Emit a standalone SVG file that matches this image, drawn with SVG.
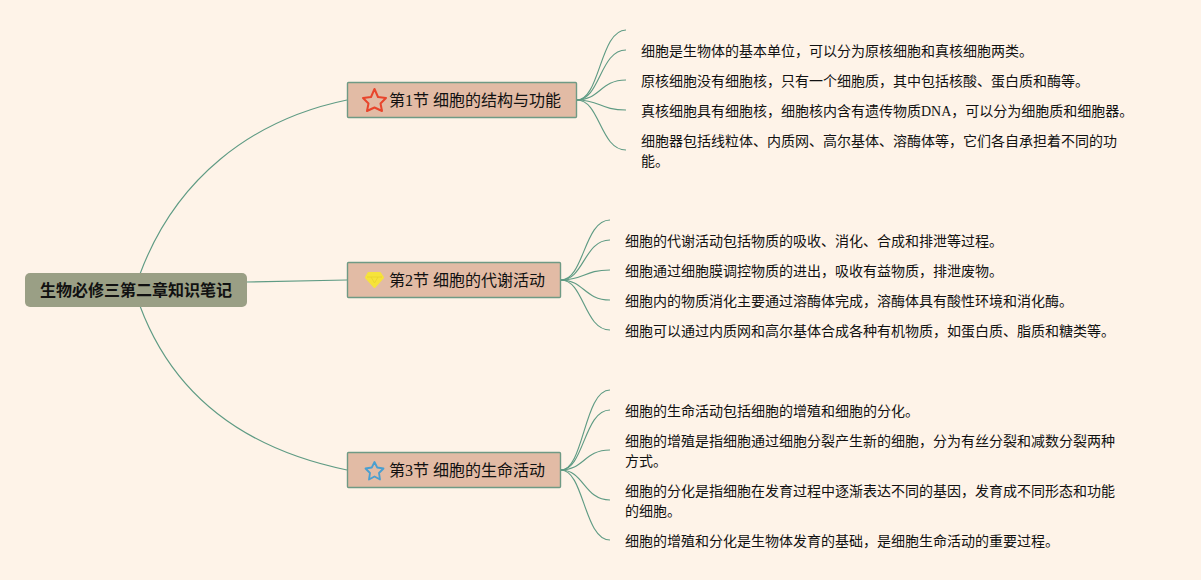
<svg xmlns="http://www.w3.org/2000/svg" width="1201" height="580" viewBox="0 0 1201 580">
<style>
text{font-family:"Liberation Serif","Noto Sans CJK SC",serif;fill:#111}
.leaf{font-size:14px}
.sec{font-size:16px}
.root{font-size:16px;font-weight:700}
.box{fill:#e2bba5;stroke:#6f9a85;stroke-width:1.400}
.link{fill:none;stroke:#5f9b84;stroke-width:1.150}
</style>
<rect width="1201" height="580" fill="#fef3e8"/>
<g id="connectors">
<path class="link" d="M246 282 L347 280"/>
<path class="link" d="M140 274 C175 180 250 120 347 100"/>
<path class="link" d="M140 306 C175 400 250 450 347 470"/>
<path class="link" d="M577 100 C600 100 600 30 626 30"/>
<path class="link" d="M577 100 C600 100 600 50 626 50"/>
<path class="link" d="M577 100 C600 100 600 80 626 80"/>
<path class="link" d="M577 100 C600 100 600 110 626 110"/>
<path class="link" d="M577 100 C600 100 600 150 626 150"/>
<path class="link" d="M561 280 C584 280 584 220 610 220"/>
<path class="link" d="M561 280 C584 280 584 240 610 240"/>
<path class="link" d="M561 280 C584 280 584 270 610 270"/>
<path class="link" d="M561 280 C584 280 584 300 610 300"/>
<path class="link" d="M561 280 C584 280 584 330 610 330"/>
<path class="link" d="M561 470 C584 470 584 390 610 390"/>
<path class="link" d="M561 470 C584 470 584 410 610 410"/>
<path class="link" d="M561 470 C584 470 584 450 610 450"/>
<path class="link" d="M561 470 C584 470 584 500 610 500"/>
<path class="link" d="M561 470 C584 470 584 540 610 540"/>
</g>
<g id="root">
<rect x="25" y="273" width="222" height="34" rx="5" fill="#9a9f85"/>
<text class="root" x="40" y="296">生物必修三第二章知识笔记</text>
</g>
<g id="sec1">
<rect class="box" x="347.500" y="82.500" width="229" height="35" rx="1"/>
<path d="M374.500 89 L378 97 L386 98 L380.500 103.500 L382 111 L374.500 107.500 L367 111 L368.500 103.500 L363 98 L371 97 Z" fill="none" stroke="#e8452c" stroke-width="2" stroke-linejoin="round"/>
<text class="sec" x="389" y="106">第1节 细胞的结构与功能</text>
</g>
<g id="sec2">
<rect class="box" x="347.500" y="262.500" width="213" height="35" rx="1"/>
<path d="M368.500 273 H380 L383 277.500 L374.500 287 L366 277.500 Z" fill="#f6e33a" stroke="#f6e33a" stroke-width="2" stroke-linejoin="round"/>
<path d="M371 277 L374.500 283 L378 277 M367 277 H382" fill="none" stroke="#e9d22e" stroke-width="0.800"/>
<text class="sec" x="389" y="286">第2节 细胞的代谢活动</text>
</g>
<g id="sec3">
<rect class="box" x="347.500" y="452.500" width="213" height="35" rx="1"/>
<path d="M374.500 462 L377.200 467.500 L383.500 468.500 L379 473 L380 479.500 L374.500 476.500 L369 479.500 L370 473 L365.500 468.500 L371.800 467.500 Z" fill="none" stroke="#4a9fd0" stroke-width="1.800" stroke-linejoin="round"/>
<text class="sec" x="389" y="476">第3节 细胞的生命活动</text>
</g>
<g id="leaf1-1"><text class="leaf" x="641" y="56">细胞是生物体的基本单位，可以分为原核细胞和真核细胞两类。</text></g>
<g id="leaf1-2"><text class="leaf" x="641" y="86">原核细胞没有细胞核，只有一个细胞质，其中包括核酸、蛋白质和酶等。</text></g>
<g id="leaf1-3"><text class="leaf" x="641" y="116">真核细胞具有细胞核，细胞核内含有遗传物质DNA，可以分为细胞质和细胞器。</text></g>
<g id="leaf1-4"><text class="leaf" x="641" y="146">细胞器包括线粒体、内质网、高尔基体、溶酶体等，它们各自承担着不同的功</text><text class="leaf" x="641" y="166">能。</text></g>
<g id="leaf2-1"><text class="leaf" x="625" y="246">细胞的代谢活动包括物质的吸收、消化、合成和排泄等过程。</text></g>
<g id="leaf2-2"><text class="leaf" x="625" y="276">细胞通过细胞膜调控物质的进出，吸收有益物质，排泄废物。</text></g>
<g id="leaf2-3"><text class="leaf" x="625" y="306">细胞内的物质消化主要通过溶酶体完成，溶酶体具有酸性环境和消化酶。</text></g>
<g id="leaf2-4"><text class="leaf" x="625" y="336">细胞可以通过内质网和高尔基体合成各种有机物质，如蛋白质、脂质和糖类等。</text></g>
<g id="leaf3-1"><text class="leaf" x="625" y="416">细胞的生命活动包括细胞的增殖和细胞的分化。</text></g>
<g id="leaf3-2"><text class="leaf" x="625" y="446">细胞的增殖是指细胞通过细胞分裂产生新的细胞，分为有丝分裂和减数分裂两种</text><text class="leaf" x="625" y="466">方式。</text></g>
<g id="leaf3-3"><text class="leaf" x="625" y="496">细胞的分化是指细胞在发育过程中逐渐表达不同的基因，发育成不同形态和功能</text><text class="leaf" x="625" y="516">的细胞。</text></g>
<g id="leaf3-4"><text class="leaf" x="625" y="546">细胞的增殖和分化是生物体发育的基础，是细胞生命活动的重要过程。</text></g>
</svg>
